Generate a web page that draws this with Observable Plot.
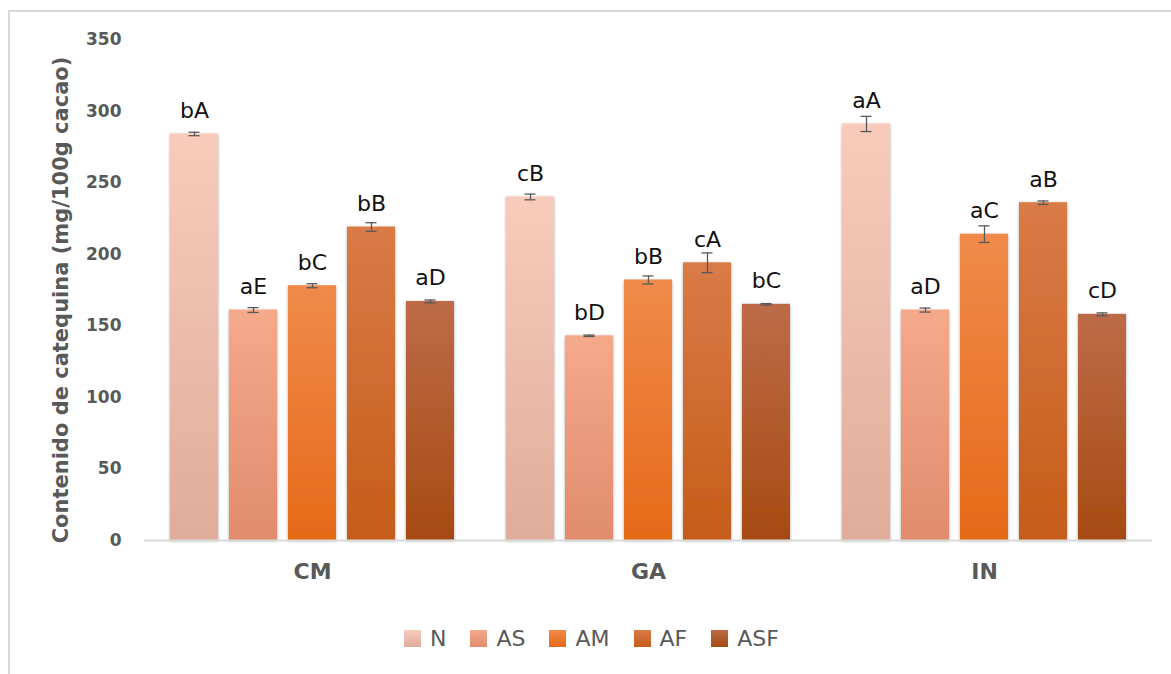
<!DOCTYPE html>
<html>
<head>
<meta charset="utf-8">
<script src="https://cdn.jsdelivr.net/npm/d3@7"></script>
<script src="https://cdn.jsdelivr.net/npm/@observablehq/plot@0.6"></script>
<style>
  html, body { margin: 0; padding: 0; background: #fff; }
  #wrap { position: relative; width: 1171px; height: 674px; overflow: hidden; font-family: "DejaVu Sans", sans-serif; }
  #frame { position: absolute; left: 8px; top: 10px; width: 1200px; height: 700px;
           border-left: 2px solid #d9d9d9; border-top: 2px solid #d9d9d9; }
  #chart { position: absolute; left: 0; top: 0; }
  #legend { position: absolute; top: 626px; left: 404px; display: flex; align-items: center;
            font-size: 22px; color: #595959; }
  #legend .item { display: flex; align-items: center; margin-right: 24px; }
  #legend .sw { width: 17px; height: 17px; margin-right: 9px; }
</style>
</head>
<body>
<div id="wrap">
  <div id="frame"></div>
  <div id="chart"></div>
  <div id="legend"></div>
</div>
<script>
// Origins (groups) and treatments (series)
const sites = ["CM", "GA", "IN"];
const treatments = ["N", "AS", "AM", "AF", "ASF"];

// Catechin content (mg/100 g cacao), one list per origin, in treatment order
const valuesCM = [284, 161, 178, 219, 167];
const valuesGA = [240, 143, 182, 194, 165];
const valuesIN = [291, 161, 214, 236, 158];

// Standard deviations shown as error bars
const errorsCM = [1.2, 1.7, 1.4, 3.0, 1.0];
const errorsGA = [2.0, 0.5, 2.8, 6.9, 0.5];
const errorsIN = [5.3, 1.4, 5.8, 1.2, 1.0];

// Significance letters printed above each bar
const lettersCM = ["bA", "aE", "bC", "bB", "aD"];
const lettersGA = ["cB", "bD", "bB", "cA", "bC"];
const lettersIN = ["aA", "aD", "aC", "aB", "cD"];

// Y axis ticks
const yTicks = [0, 50, 100, 150, 200, 250, 300, 350];

// Gradient stops (top, bottom) for each treatment
const topColors    = ["#F8CBBB", "#F5A98B", "#F08A4B", "#D97B47", "#BD6B48"];
const bottomColors = ["#E0AC9B", "#E08C6D", "#E56A18", "#C65C19", "#A64B12"];

const values = {CM: valuesCM, GA: valuesGA, IN: valuesIN};
const errors = {CM: errorsCM, GA: errorsGA, IN: errorsIN};
const letters = {CM: lettersCM, GA: lettersGA, IN: lettersIN};

const rows = sites.flatMap(site => treatments.map((trt, i) => ({
  site, trt,
  val: values[site][i],
  err: errors[site][i],
  lbl: letters[site][i]
})));

const grey = "#595959";
const font = "DejaVu Sans, sans-serif";

const chart = Plot.plot({
  width: 1171,
  height: 612,
  marginLeft: 144,
  marginRight: 19,
  marginTop: 39,
  marginBottom: 72,
  style: {fontFamily: font, fontSize: "17px", fontWeight: "bold", color: grey, background: "transparent", overflow: "visible"},
  facet: {data: rows, x: "site"},
  fx: {domain: sites, padding: 0, axis: null},
  x: {domain: treatments, paddingInner: 0.18, paddingOuter: 0.39, axis: null},
  y: {domain: [0, 350], ticks: yTicks, tickSize: 0, tickPadding: 23, label: null},
  color: {type: "ordinal", domain: treatments, range: treatments.map(t => `url(#grad-${t})`)},
  marks: [
    Plot.barY(rows, {x: "trt", y: "val", fill: "trt"}),
    Plot.ruleY(rows, {filter: d => d.trt === "N", y: 0, stroke: "#d9d9d9", strokeWidth: 2}),
    Plot.ruleX(rows, {x: "trt", y1: d => d.val - d.err, y2: d => d.val + d.err, stroke: grey, strokeWidth: 1.3}),
    Plot.tickY(rows, {x: "trt", y: d => d.val - d.err, stroke: grey, strokeWidth: 1.3, inset: 18.5}),
    Plot.tickY(rows, {x: "trt", y: d => d.val + d.err, stroke: grey, strokeWidth: 1.3, inset: 18.5}),
    Plot.text(rows, {x: "trt", y: "val", text: "lbl", dy: -23, fontSize: 22, fontWeight: "normal", fill: "#111"}),
    Plot.text(rows, {filter: d => d.trt === "AM", x: "trt", text: "site", frameAnchor: "bottom", dy: 38,
                     fontSize: 22, fontWeight: "bold", fill: grey}),
    Plot.text(rows, {filter: d => d.site === "CM" && d.trt === "N", text: () => "Contenido de catequina (mg/100g cacao)",
                     frameAnchor: "left", textAnchor: "middle", rotate: -90, dx: -83, dy: 10,
                     fontSize: 21, fontWeight: "bold", fill: grey})
  ]
});

// Vertical gradients and a soft shadow for the bars
const svgNS = "http://www.w3.org/2000/svg";
const defs = document.createElementNS(svgNS, "defs");
treatments.forEach((t, i) => {
  const g = document.createElementNS(svgNS, "linearGradient");
  g.setAttribute("id", `grad-${t}`);
  g.setAttribute("x1", "0"); g.setAttribute("y1", "0");
  g.setAttribute("x2", "0"); g.setAttribute("y2", "1");
  [[0, topColors[i]], [1, bottomColors[i]]].forEach(([o, c]) => {
    const s = document.createElementNS(svgNS, "stop");
    s.setAttribute("offset", o);
    s.setAttribute("stop-color", c);
    g.appendChild(s);
  });
  defs.appendChild(g);
});
const f = document.createElementNS(svgNS, "filter");
f.setAttribute("id", "bar-shadow");
f.setAttribute("x", "-20%"); f.setAttribute("y", "-5%");
f.setAttribute("width", "140%"); f.setAttribute("height", "110%");
const ds = document.createElementNS(svgNS, "feDropShadow");
ds.setAttribute("dx", "0"); ds.setAttribute("dy", "1");
ds.setAttribute("stdDeviation", "1.6");
ds.setAttribute("flood-color", "#000");
ds.setAttribute("flood-opacity", "0.35");
f.appendChild(ds);
defs.appendChild(f);
chart.insertBefore(defs, chart.firstChild);
chart.querySelectorAll('g[aria-label="bar"] rect').forEach(r => r.setAttribute("filter", "url(#bar-shadow)"));

document.getElementById("chart").appendChild(chart);

// Legend
const legend = document.getElementById("legend");
treatments.forEach((t, i) => {
  const item = document.createElement("div");
  item.className = "item";
  const sw = document.createElement("div");
  sw.className = "sw";
  sw.style.background = `linear-gradient(${topColors[i]}, ${bottomColors[i]})`;
  const lab = document.createElement("span");
  lab.textContent = t;
  item.appendChild(sw);
  item.appendChild(lab);
  legend.appendChild(item);
});
</script>
</body>
</html>
